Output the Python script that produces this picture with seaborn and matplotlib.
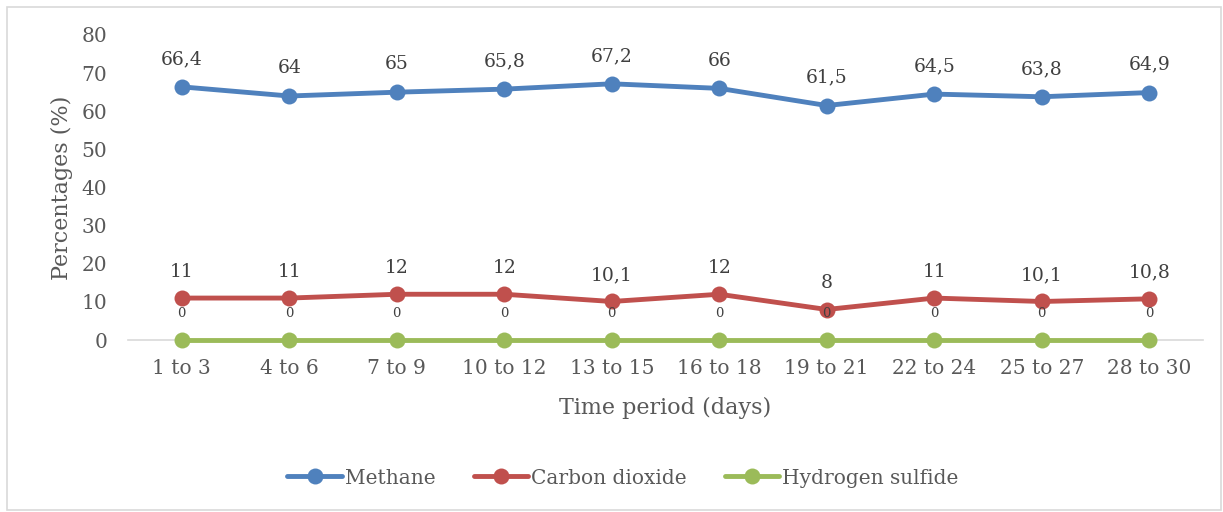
import matplotlib
matplotlib.use("Agg")
import matplotlib.pyplot as plt
import seaborn as sns
import pandas as pd
from matplotlib.patches import Rectangle

periods = ["1 to 3", "4 to 6", "7 to 9", "10 to 12", "13 to 15",
           "16 to 18", "19 to 21", "22 to 24", "25 to 27", "28 to 30"]
methane = [66.4, 64, 65, 65.8, 67.2, 66, 61.5, 64.5, 63.8, 64.9]
carbon_dioxide = [11, 11, 12, 12, 10.1, 12, 8, 11, 10.1, 10.8]
hydrogen_sulfide = [0, 0, 0, 0, 0, 0, 0, 0, 0, 0]
series_names = ["Methane", "Carbon dioxide", "Hydrogen sulfide"]
colors = ["#4F81BD", "#C0504D", "#9BBB59"]

sns.set_theme(style="white")
plt.rcParams["font.family"] = ["DejaVu Serif"]
TXT = "#595959"

rows = []
for name, vals in zip(series_names, [methane, carbon_dioxide, hydrogen_sulfide]):
    for i, v in enumerate(vals):
        rows.append({"idx": i, "period": periods[i], "value": v, "series": name})
df = pd.DataFrame(rows)

fig = plt.figure(figsize=(12.23, 5.12), dpi=100)
fig.patches.append(Rectangle((7/1223, 2/512), 1214/1223, 503/512, transform=fig.transFigure,
                             fill=False, edgecolor="#D9D9D9", linewidth=1.2))
ax = fig.add_axes([128/1223, 1-340/512, (1203-128)/1223, (340-35)/512])

sns.lineplot(data=df, x="idx", y="value", hue="series", hue_order=series_names,
             palette=colors, marker="o", markersize=11.5, markeredgewidth=0,
             linewidth=3.5, ax=ax, clip_on=False, legend=True)
for ln in ax.lines:
    ln.set_clip_on(False)

def fmt(v):
    s = f"{v:g}"
    return s.replace(".", ",")

for vals, dy, fs in [(methane, 20, 13.5), (carbon_dioxide, 19, 13.5), (hydrogen_sulfide, 19, 9.5)]:
    for i, v in enumerate(vals):
        ax.annotate(fmt(v), (i, v), xytext=(0, dy), textcoords="offset points",
                    ha="center", va="center", fontsize=fs, color="#404040")

ax.set_xlim(-0.5, 9.5)
ax.set_ylim(0, 80)
ax.set_yticks(range(0, 81, 10))
ax.set_xticks(range(len(periods)))
ax.set_xticklabels(periods)
ax.tick_params(axis="both", length=0, labelsize=14.5, colors=TXT)
ax.tick_params(axis="y", pad=15)
ax.tick_params(axis="x", pad=14)
for sp in ["top", "right", "left"]:
    ax.spines[sp].set_visible(False)
ax.spines["bottom"].set_color("#D9D9D9")
ax.spines["bottom"].set_linewidth(1.2)
ax.spines["bottom"].set_zorder(0)
ax.set_xlabel("Time period (days)", fontsize=16, color=TXT, labelpad=13)
ax.set_ylabel("Percentages (%)", fontsize=16, color=TXT, labelpad=6)

handles, labels = ax.get_legend_handles_labels()
ax.legend(handles, labels, loc="center", bbox_to_anchor=(623/1223, 1-478/512),
          bbox_transform=fig.transFigure, ncol=3, frameon=False, fontsize=14.5,
          handlelength=2.7, handletextpad=0.15, columnspacing=1.9, labelcolor=TXT)

fig.savefig("out.png", dpi=100)
